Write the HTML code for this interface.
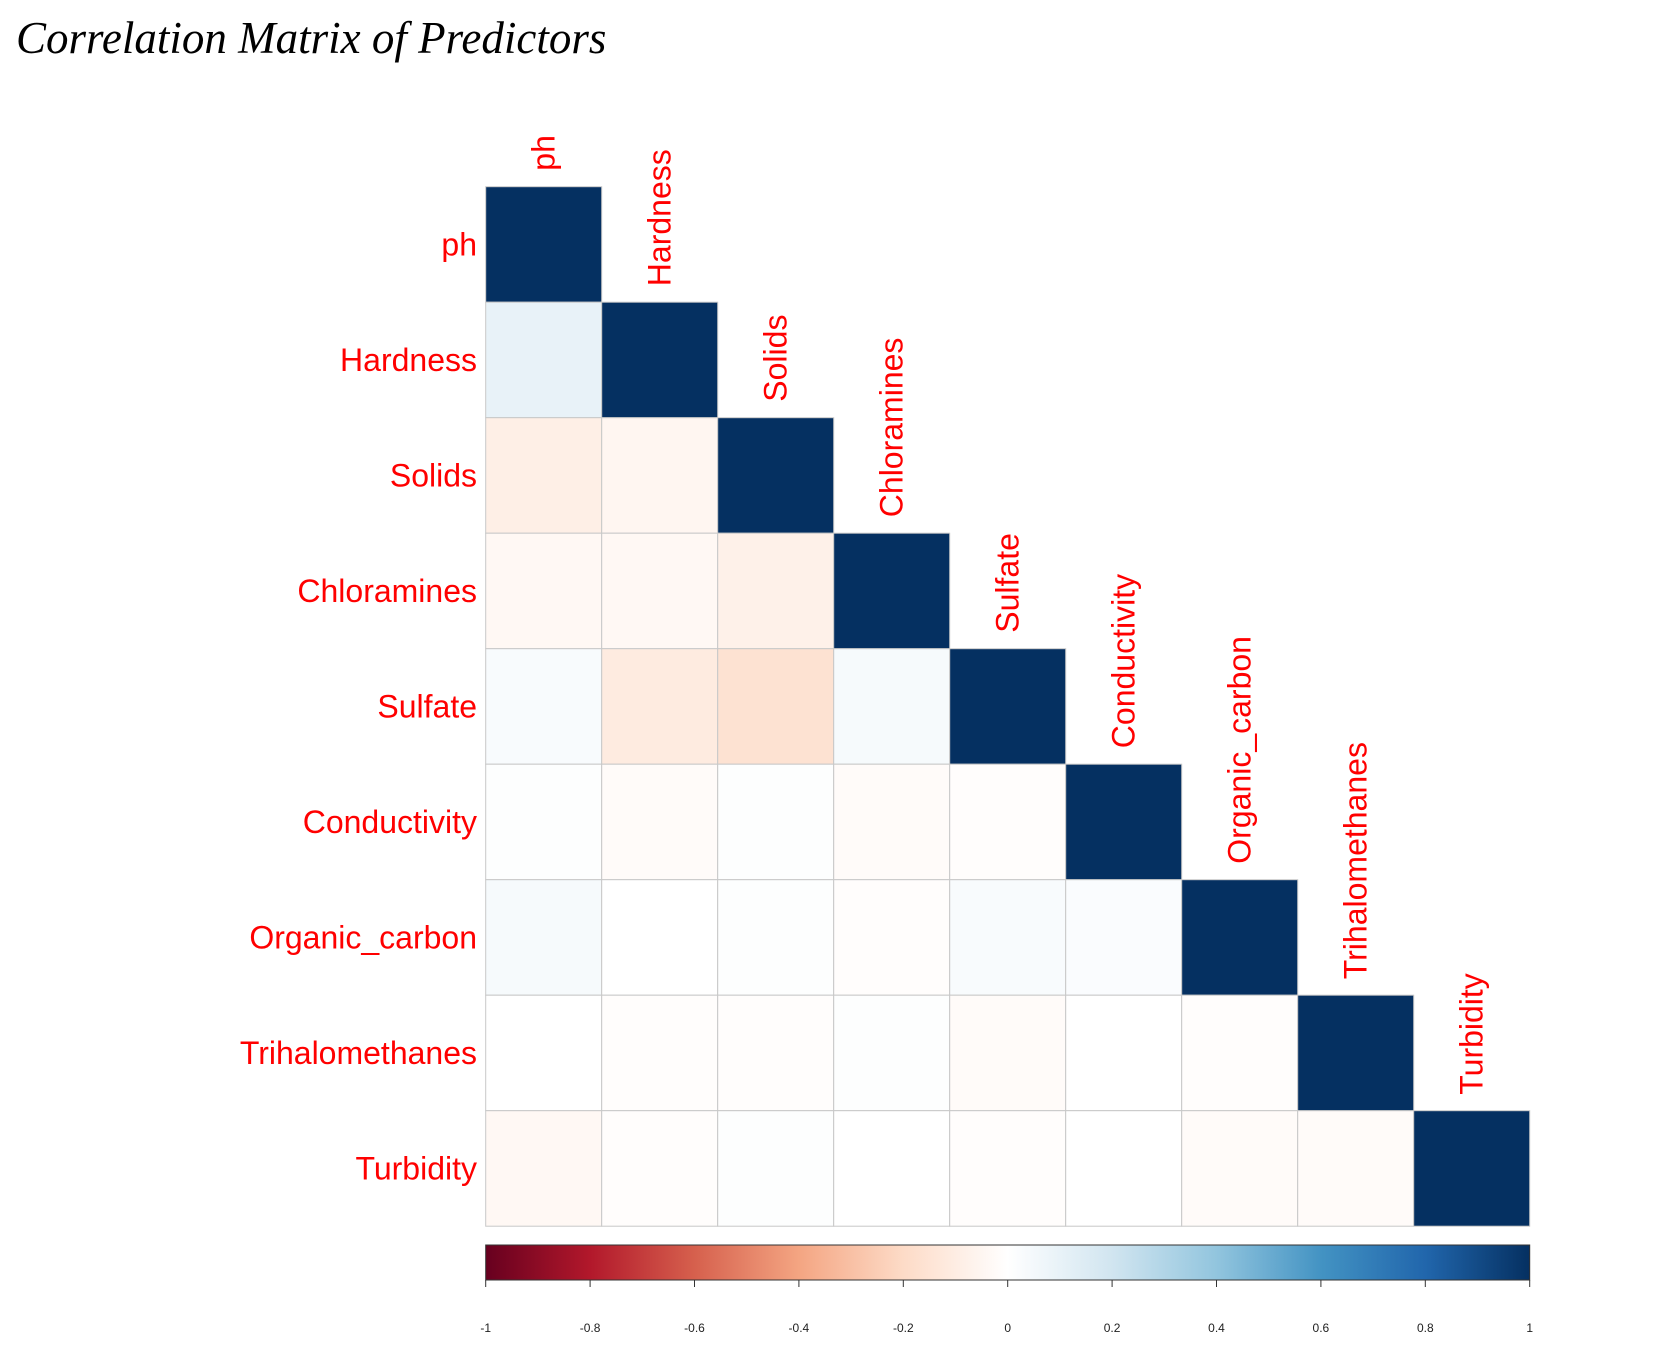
<!DOCTYPE html>
<html><head><meta charset="utf-8"><style>
body{margin:0;background:#fff;width:1678px;height:1354px;overflow:hidden}
</style></head><body>
<svg id="chart" width="1678" height="1354">
<text x="16" y="53" font-family="Liberation Serif, serif" font-style="italic" font-size="45" fill="#000">Correlation Matrix of Predictors</text>
</svg>
<script>
const vars = ["ph","Hardness","Solids","Chloramines","Sulfate","Conductivity","Organic_carbon","Trihalomethanes","Turbidity"];
// lower-triangle rows (row i has i values, for columns 0..i-1)
const corrRows = [
 [],
 [0.1],
 [-0.09,-0.05],
 [-0.04,-0.04,-0.08],
 [0.03,-0.11,-0.16,0.04],
 [0.01,-0.02,0.01,-0.02,-0.01],
 [0.04,0.00,0.01,-0.01,0.03,0.02],
 [0.00,-0.01,-0.01,0.01,-0.02,0.00,-0.01],
 [-0.04,-0.01,0.01,0.00,-0.01,0.00,-0.02,-0.02]
];
const ticks = [-1,-0.8,-0.6,-0.4,-0.2,0,0.2,0.4,0.6,0.8,1];

const svg = document.getElementById('chart');
const NS = "http://www.w3.org/2000/svg";
const X0 = 485.7, Y0 = 186.7, CW = 116, CH = 115.5;
const pal = ["#67001F","#B2182B","#D6604D","#F4A582","#FDDBC7","#FFFFFF","#D1E5F0","#92C5DE","#4393C3","#2166AC","#053061"];
function hex(h){return [1,3,5].map(i=>parseInt(h.substr(i,2),16));}
function color(v){
  const t=(v+1)/2*(pal.length-1); const i=Math.min(Math.floor(t),pal.length-2); const f=t-i;
  const a=hex(pal[i]), b=hex(pal[i+1]);
  return "rgb("+a.map((c,k)=>Math.round(c+(b[k]-c)*f)).join(",")+")";
}
const xS = c => X0 + c*CW, yS = r => Y0 + r*CH;
function mk(tag, attrs){const e=document.createElementNS(NS,tag);for(const k in attrs)e.setAttribute(k,attrs[k]);svg.appendChild(e);return e;}

for(let r=0;r<vars.length;r++){
  const row = corrRows[r].concat([1]);
  for(let c=0;c<row.length;c++){
    const e = mk('rect',{x:xS(c),y:yS(r),width:CW,height:CH,fill:color(row[c]),stroke:"#c8c8c8","stroke-width":1});
    
    
  }
  const t = mk('text',{x:477,y:yS(r)+CH/2+11,"text-anchor":"end","font-family":"Liberation Sans, sans-serif","font-size":32,fill:"#ff0000"});
  t.textContent = vars[r];
  
  
  const cx = xS(r)+CW/2+11, cy = yS(r)-16;
  const ct = mk('text',{x:cx,y:cy,transform:`rotate(-90 ${cx} ${cy})`,"font-family":"Liberation Sans, sans-serif","font-size":32,fill:"#ff0000"});
  ct.textContent = vars[r];
  
  
}
// colorbar
const defs = mk('defs',{});
const grad = document.createElementNS(NS,'linearGradient');
grad.setAttribute('id','cb');
pal.forEach((p,i)=>{const s=document.createElementNS(NS,'stop');s.setAttribute('offset',(i/(pal.length-1)*100)+'%');s.setAttribute('stop-color',p);grad.appendChild(s);});
defs.appendChild(grad);
const BX0 = X0, BX1 = X0+9*CW, BY = 1245, BH = 35;
const bar = mk('rect',{x:BX0,y:BY,width:BX1-BX0,height:BH,fill:"url(#cb)",stroke:"#333","stroke-width":1});


const bS = v => BX0 + (v+1)/2*(BX1-BX0);
ticks.forEach(v=>{
  const l = mk('line',{x1:bS(v),x2:bS(v),y1:BY+BH,y2:BY+BH+7,stroke:"#333","stroke-width":1});
  
  
  const t = mk('text',{x:bS(v),y:1332,"text-anchor":"middle","font-family":"Liberation Sans, sans-serif","font-size":12,fill:"#222"});
  t.textContent = String(v);
  
  
});
</script>
</body></html>
